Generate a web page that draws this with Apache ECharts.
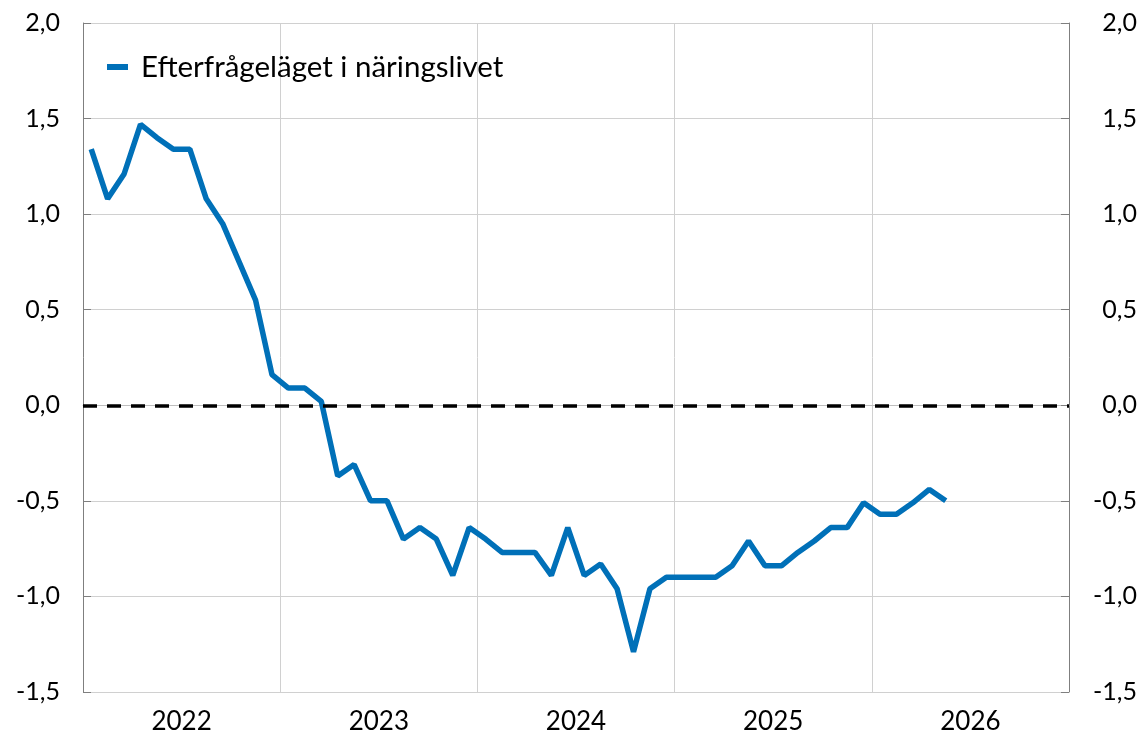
<!DOCTYPE html>
<html>
<head>
<meta charset="utf-8">
<script src="https://cdn.jsdelivr.net/npm/echarts@6/dist/echarts.min.js"></script>
<style>
  html, body { margin: 0; padding: 0; background: #fff; }
  #chart { width: 1143px; height: 744px; }
</style>
</head>
<body>
<div id="chart"></div>
<script>
// year labels on the x axis (one per 12 months)
const years = ["2022", "2023", "2024", "2025", "2026"];

// monthly values, Jan 2022 - May 2026
const demand = [
  1.34, 1.08, 1.21, 1.47, 1.40, 1.34, 1.34, 1.08, 0.95, 0.75, 0.55, 0.16,
  0.09, 0.09, 0.02, -0.37, -0.31, -0.50, -0.50, -0.70, -0.64, -0.70, -0.89, -0.64,
  -0.70, -0.77, -0.77, -0.77, -0.89, -0.64, -0.89, -0.83, -0.96, -1.29, -0.96, -0.90,
  -0.90, -0.90, -0.90, -0.84, -0.71, -0.84, -0.84, -0.77, -0.71, -0.64, -0.64, -0.51,
  -0.57, -0.57, -0.51, -0.44, -0.50
];

const seriesName = "Efterfrågeläget i näringslivet";
const font = "Lato";

// place each month at the middle of its slot
const points = demand.map((v, i) => [i + 0.5, v]);

const fmt = (v) => v.toFixed(1).replace(".", ",");

const chart = echarts.init(document.getElementById("chart"));

chart.setOption({
  animation: false,
  textStyle: { fontFamily: font },
  grid: { left: 83, right: 74, top: 23, bottom: 52 },
  legend: {
    left: 107,
    top: 52,
    padding: 0,
    icon: "rect",
    itemWidth: 21,
    itemHeight: 6,
    textStyle: { fontSize: 29.5, color: "#000", fontFamily: font, padding: [0, 0, 0, 8] },
    data: [seriesName]
  },
  xAxis: [
    {
      type: "value",
      min: 0,
      max: 60,
      interval: 12,
      axisLine: { show: true, lineStyle: { color: "#bfbfbf" } },
      axisTick: { show: false },
      axisLabel: { show: false },
      splitLine: { show: true, lineStyle: { color: "#d0d0d0", width: 1 } }
    },
    {
      type: "category",
      position: "bottom",
      data: years,
      boundaryGap: true,
      axisLine: { show: false },
      axisTick: { show: false },
      splitLine: { show: false },
      axisLabel: { fontSize: 26, color: "#000", margin: 17, fontFamily: font }
    }
  ],
  yAxis: [
    {
      type: "value",
      position: "left",
      min: -1.5,
      max: 2,
      interval: 0.5,
      axisLine: { show: true, lineStyle: { color: "#7f7f7f" } },
      axisTick: { show: true, inside: true, length: 8, lineStyle: { color: "#7f7f7f" } },
      axisLabel: { fontSize: 25, color: "#000", margin: 23, formatter: fmt, fontFamily: font },
      splitLine: { show: true, lineStyle: { color: "#d0d0d0", width: 1 } }
    },
    {
      type: "value",
      position: "right",
      min: -1.5,
      max: 2,
      interval: 0.5,
      axisLine: { show: true, lineStyle: { color: "#7f7f7f" } },
      axisTick: { show: true, inside: true, length: 8, lineStyle: { color: "#7f7f7f" } },
      axisLabel: { fontSize: 25, color: "#000", margin: 68, align: "right", formatter: fmt, fontFamily: font },
      splitLine: { show: false }
    }
  ],
  series: [
    {
      name: seriesName,
      type: "line",
      xAxisIndex: 0,
      yAxisIndex: 0,
      data: points,
      showSymbol: false,
      symbol: "none",
      lineStyle: { color: "#0070b8", width: 5.5 },
      itemStyle: { color: "#0070b8" },
      markLine: {
        silent: true,
        symbol: "none",
        label: { show: false },
        lineStyle: { color: "#000", type: [14, 10], width: 3.5 },
        data: [{ yAxis: 0 }]
      },
      z: 3
    }
  ]
});
</script>
</body>
</html>
